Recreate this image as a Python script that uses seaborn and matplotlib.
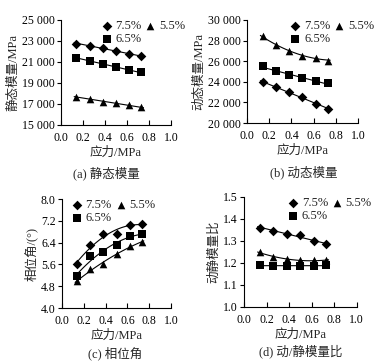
import numpy as np
import pandas as pd
import matplotlib
matplotlib.use("Agg")
import matplotlib.pyplot as plt
import matplotlib.ticker as mticker
import seaborn as sns

sns.set_style("ticks")
plt.rcParams['font.serif'] = ['Liberation Serif', 'DejaVu Serif']
plt.rcParams['font.family'] = ['Liberation Serif', 'Noto Sans CJK SC']
plt.rcParams['axes.unicode_minus'] = False

stress = [0.14, 0.26, 0.38, 0.50, 0.62, 0.73]
series = ["7.5%", "6.5%", "5.5%"]

static_75 = [22750, 22550, 22300, 22050, 21750, 21550]
static_65 = [21400, 21100, 20800, 20500, 20200, 20000]
static_55 = [17700, 17450, 17200, 17050, 16850, 16700]

dynamic_75 = [24000, 23450, 23000, 22500, 21850, 21400]
dynamic_65 = [25500, 25050, 24650, 24350, 24050, 23850]
dynamic_55 = [28400, 27550, 27000, 26550, 26350, 26050]

phase_75 = [5.63, 6.31, 6.71, 6.71, 7.04, 7.10]
phase_65 = [5.18, 5.90, 6.04, 6.32, 6.66, 6.71]
phase_55 = [4.98, 5.45, 5.60, 6.00, 6.26, 6.42]

ratio_75 = [1.360, 1.346, 1.332, 1.326, 1.300, 1.284]
ratio_65 = [1.189, 1.187, 1.187, 1.187, 1.187, 1.189]
ratio_55 = [1.248, 1.227, 1.218, 1.212, 1.212, 1.212]

panels = [
    dict(pos=[0.162, 0.655, 0.293, 0.290], data=[static_75, static_65, static_55], deg=[1, 1, 1],
         ylim=(15000, 25000), yticks=[15000, 17000, 19000, 21000, 23000, 25000],
         ylabel="静态模量/MPa", caption="(a) 静态模量", cap=(0.282, 0.522), leg=0.37, fmt="thou"),
    dict(pos=[0.657, 0.660, 0.295, 0.285], data=[dynamic_75, dynamic_65, dynamic_55], deg=[1, 1, 2],
         ylim=(20000, 30000), yticks=[20000, 22000, 24000, 26000, 28000, 30000],
         ylabel="动态模量/MPa", caption="(b) 动态模量", cap=(0.808, 0.525), leg=0.39, fmt="thou"),
    dict(pos=[0.165, 0.149, 0.290, 0.301], data=[phase_75, phase_65, phase_55], deg=[2, 2, 2],
         ylim=(4.0, 8.0), yticks=[4.0, 4.8, 5.6, 6.4, 7.2, 8.0],
         ylabel="相位角/(°)", caption="(c) 相位角", cap=(0.306, 0.025), leg=0.09, fmt="one"),
    dict(pos=[0.649, 0.152, 0.300, 0.304], data=[ratio_75, ratio_65, ratio_55], deg=[1, 1, 2],
         ylim=(1.0, 1.5), yticks=[1.0, 1.1, 1.2, 1.3, 1.4, 1.5],
         ylabel="动静模量比", caption="(d) 动/静模量比", cap=(0.800, 0.028), leg=0.39, fmt="one"),
]

markers = {"7.5%": "D", "6.5%": "s", "5.5%": "^"}
msizes = {"7.5%": 24, "6.5%": 34, "5.5%": 30}

fig = plt.figure(figsize=(3.76, 3.62), dpi=100)

for p in panels:
    ax = fig.add_axes(p["pos"])
    rows = []
    for name, vals in zip(series, p["data"]):
        for x, y in zip(stress, vals):
            rows.append(dict(stress=x, value=y, series=name))
    df = pd.DataFrame(rows)
    for name, vals, d in zip(series, p["data"], p["deg"]):
        coef = np.polyfit(stress, vals, d)
        xs = np.linspace(stress[0] - 0.02, stress[-1] + 0.02, 60)
        sns.lineplot(x=xs, y=np.polyval(coef, xs), ax=ax, color="black", lw=0.8, legend=False)
    for name in series:
        sub = df[df.series == name]
        sns.scatterplot(data=sub, x="stress", y="value", marker=markers[name], s=msizes[name],
                        color="black", edgecolor="black", linewidth=0, ax=ax, label=name, zorder=3)
    ax.set_xlim(0, 1.0)
    ax.set_ylim(*p["ylim"])
    ax.set_xticks([0.0, 0.2, 0.4, 0.6, 0.8, 1.0])
    ax.set_yticks(p["yticks"])
    ax.xaxis.set_major_formatter(mticker.FormatStrFormatter("%.1f"))
    if p["fmt"] == "thou":
        ax.yaxis.set_major_formatter(mticker.FuncFormatter(lambda v, pos: f"{int(v):,}".replace(",", " ")))
    else:
        ax.yaxis.set_major_formatter(mticker.FormatStrFormatter("%.1f"))
    for s in ["top", "right"]:
        ax.spines[s].set_visible(False)
    for s in ["left", "bottom"]:
        ax.spines[s].set_linewidth(0.8)
        ax.spines[s].set_color("black")
    ax.tick_params(axis="x", direction="in", length=3.5, width=0.8, labelsize=8.5, pad=5, colors="black")
    ax.tick_params(axis="y", direction="out", length=3, width=0.8, labelsize=8.5, pad=1.5, colors="black")
    ax.set_xlabel("应力/MPa", fontsize=9, labelpad=2)
    ax.set_ylabel(p["ylabel"], fontsize=9, labelpad=2)
    fig.text(p["cap"][0], p["cap"][1], p["caption"], ha="center", va="center", fontsize=9)
    h, l = ax.get_legend_handles_labels()
    ax.legend(h, l, loc="upper left", bbox_to_anchor=(p["leg"], 1.0), ncol=2, frameon=False,
              fontsize=9, handlelength=0.8, handletextpad=0.3, columnspacing=0.3,
              labelspacing=0.1, borderpad=0, borderaxespad=0)

fig.savefig("out.png", dpi=100, facecolor="white")
